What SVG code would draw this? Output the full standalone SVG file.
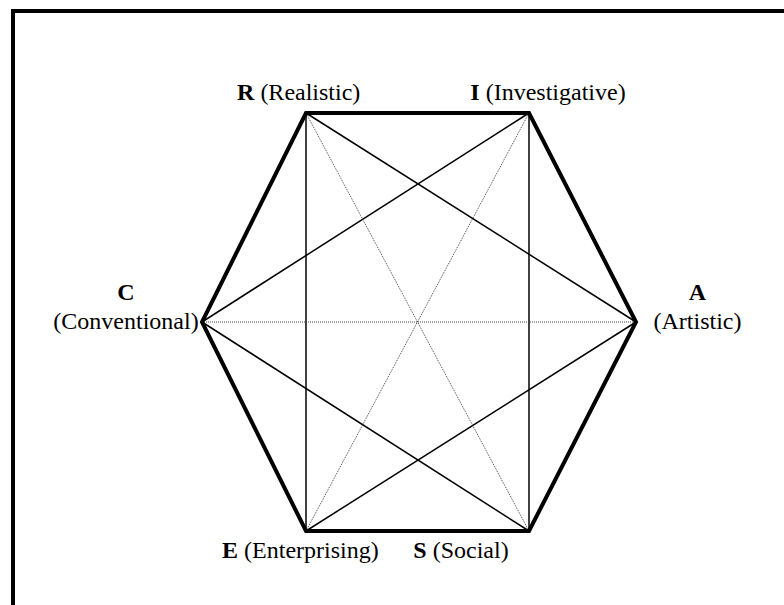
<svg xmlns="http://www.w3.org/2000/svg" width="784" height="605" viewBox="0 0 784 605">
<style>
.lbl{font-family:"Liberation Serif","Times New Roman",serif;font-size:24px;fill:#000;text-anchor:middle}
.b{font-weight:bold}
.hex{fill:none;stroke:#000;stroke-width:4;stroke-linejoin:miter}
.solid{stroke:#000;stroke-width:1.5;fill:none}
.dot{stroke:#444;stroke-width:1;stroke-dasharray:1 1;fill:none}
</style>
<rect width="784" height="605" fill="#fff"/>
<path d="M13,605 V11 H784" fill="none" stroke="#000" stroke-width="4"/>
<g id="connectors">
<line class="solid" x1="306" y1="113" x2="636" y2="322"/>
<line class="solid" x1="529" y1="113" x2="202" y2="322"/>
<line class="solid" x1="202" y1="322" x2="529" y2="531"/>
<line class="solid" x1="636" y1="322" x2="306" y2="531"/>
<line class="solid" x1="306" y1="113" x2="306" y2="531"/>
<line class="solid" x1="529" y1="113" x2="529" y2="531"/>
<line class="dot" x1="306" y1="113" x2="529" y2="531"/>
<line class="dot" x1="529" y1="113" x2="306" y2="531"/>
<line class="dot" x1="202" y1="322" x2="636" y2="322"/>
<polygon class="hex" points="306,113 529,113 636,322 529,531 306,531 202,322"/>
</g>
<g id="node-R"><text class="lbl" x="298.7" y="100"><tspan class="b">R</tspan> (Realistic)</text></g>
<g id="node-I"><text class="lbl" x="548" y="100"><tspan class="b">I</tspan> (Investigative)</text></g>
<g id="node-A"><text class="lbl b" x="697.5" y="300">A</text><text class="lbl" x="697.5" y="329">(Artistic)</text></g>
<g id="node-S"><text class="lbl" x="461" y="558"><tspan class="b">S</tspan> (Social)</text></g>
<g id="node-E"><text class="lbl" x="300.4" y="558"><tspan class="b">E</tspan> (Enterprising)</text></g>
<g id="node-C"><text class="lbl b" x="126" y="300">C</text><text class="lbl" x="126" y="329">(Conventional)</text></g>
</svg>
